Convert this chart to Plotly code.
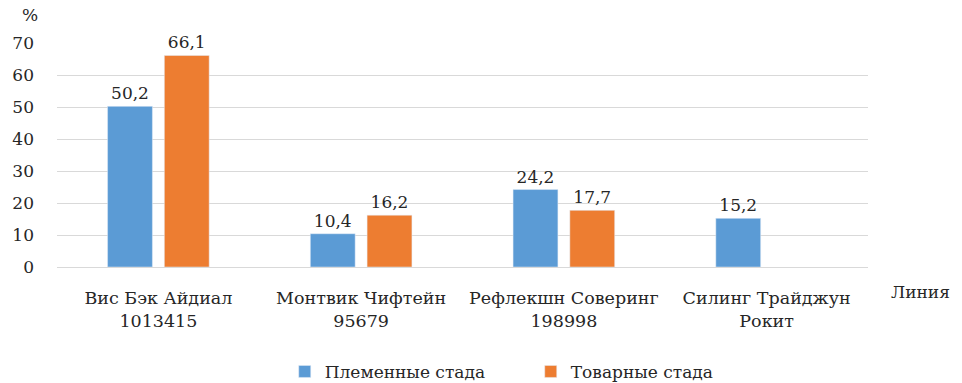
import plotly.graph_objects as go

categories = ["Вис Бэк Айдиал<br>1013415", "Монтвик Чифтейн<br>95679",
              "Рефлекшн Соверинг<br>198998", "Силинг Трайджун<br>Рокит"]
plemennye = [50.2, 10.4, 24.2, 15.2]
tovarnye = [66.1, 16.2, 17.7, None]
series_names = ["Племенные стада", "Товарные стада"]
y_ticks = [0, 10, 20, 30, 40, 50, 60, 70]

def fmt(v):
    return "" if v is None else f"{v:.1f}".replace(".", ",")

FAM = "'DejaVu Serif', 'Liberation Serif', serif"
font = dict(family=FAM, size=17, color="#262626")
catfont = dict(family=FAM, size=17.5, color="#262626")

fig = go.Figure()
fig.add_trace(go.Bar(x=categories, y=plemennye, name=series_names[0],
                     marker_color="#5B9BD5", text=[fmt(v) for v in plemennye],
                     textposition="outside", cliponaxis=False,
                     textfont=font))
fig.add_trace(go.Bar(x=categories, y=tovarnye, name=series_names[1],
                     marker_color="#ED7D31", text=[fmt(v) for v in tovarnye],
                     textposition="outside", cliponaxis=False,
                     textfont=font))

fig.update_layout(
    width=962, height=383,
    margin=dict(l=57, r=94, t=43, b=116),
    paper_bgcolor="white", plot_bgcolor="white",
    font=font,
    barmode="group", bargap=0.44, bargroupgap=0.21,
    showlegend=True,
    legend=dict(orientation="h", xref="container", yref="container",
                x=0.5517, xanchor="center", y=0.029, yanchor="middle",
                font=font, itemwidth=30, tracegroupgap=0, entrywidth=201),
    xaxis=dict(showgrid=False, showline=True, linecolor="#d9d9d9", linewidth=1,
               ticks="", tickfont=catfont, fixedrange=True, automargin=False,
               ticklabelstandoff=15),
    yaxis=dict(range=[0, 70], tickvals=y_ticks, showgrid=True, gridcolor="#d9d9d9",
               gridwidth=1, zeroline=False, showline=False, ticks="",
               tickfont=font, ticklabelstandoff=22, automargin=False, fixedrange=True),
    annotations=[
        dict(text="%", xref="paper", yref="paper", x=-0.0333, y=1.0, yshift=28,
             xanchor="center", yanchor="middle", showarrow=False, font=font),
        dict(text="Линия", xref="paper", yref="paper", x=1.0, xshift=52, y=0,
             yshift=-25, xanchor="center", yanchor="middle", showarrow=False, font=font),
    ],
)

fig.write_html("out.html", config={"displayModeBar": False},
               post_script="document.body.style.margin='0';document.body.style.overflow='hidden';")
